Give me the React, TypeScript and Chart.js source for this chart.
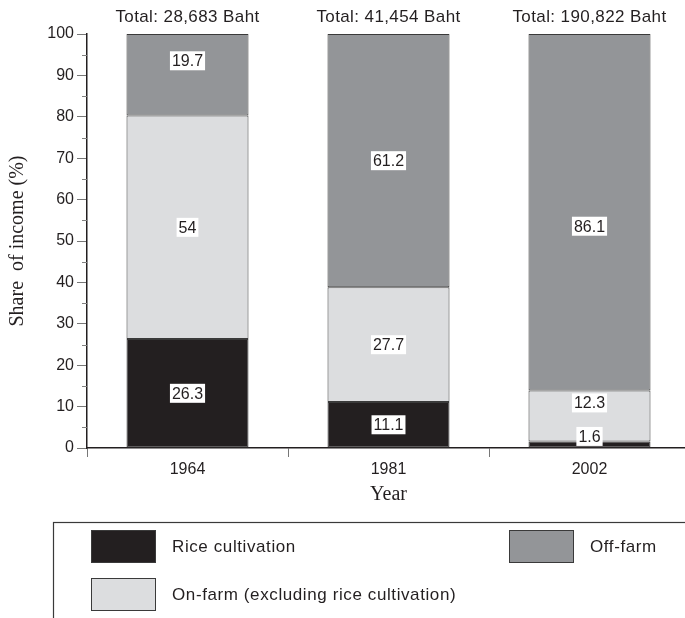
import { useEffect, useRef } from "react";
import { Chart, registerables } from "chart.js";

Chart.register(...registerables);

const YEARS = ["1964", "1981", "2002"];
const RICE = [26.3, 11.1, 1.6];
const ON_FARM = [54, 27.7, 12.3];
const OFF_FARM = [19.7, 61.2, 86.1];
const TOTALS = ["Total: 28,683 Baht", "Total: 41,454 Baht", "Total: 190,822 Baht"];
const SERIES_NAMES = ["Rice cultivation", "On-farm (excluding rice cultivation)", "Off-farm"];
const Y_MIN = 0;
const Y_MAX = 100;
const Y_STEP = 10;

const SANS = "'Liberation Sans', Arial, sans-serif";
const SERIF = "'Liberation Serif', 'Times New Roman', serif";
const INK = "#231f20";
const COLORS = ["#231f20", "#dcdddf", "#939598"];

// label nudges in px (per dataset, per bar) relative to segment centre
const NUDGE = [
  [0, 0, -8],
  [0, 0, -13],
  [-14, 0, 14],
];
// legend slots: [rectX, rectY, textX]
const LEGEND_SLOTS = [
  [91, 530, 172],
  [91, 578, 172],
  [509, 530, 590],
];

const overlay = {
  id: "overlay",
  afterDatasetsDraw(chart: any) {
    const ctx = chart.ctx as any;
    const ys = chart.scales.y;
    ctx.save();
    // minor ticks
    ctx.strokeStyle = "#808080";
    ctx.lineWidth = 1;
    for (let v = Y_MIN + Y_STEP / 2; v < Y_MAX; v += Y_STEP) {
      const py = Math.round(ys.getPixelForValue(v)) + 0.5;
      ctx.beginPath();
      ctx.moveTo(ys.right - 5, py);
      ctx.lineTo(ys.right, py);
      ctx.stroke();
    }
    // value labels
    ctx.font = `16px ${SANS}`;
    ctx.textAlign = "center";
    ctx.textBaseline = "middle";
    chart.data.datasets.forEach((ds: any, di: number) => {
      const meta = chart.getDatasetMeta(di);
      meta.data.forEach((bar: any, i: number) => {
        const p = bar.getProps(["x", "y", "base"], true);
        const cy = (p.y + p.base) / 2 + NUDGE[di][i];
        const text = String(ds.data[i]);
        const w = ctx.measureText(text).width + 4;
        const h = 19;
        ctx.fillStyle = "#ffffff";
        ctx.fillRect(p.x - w / 2, cy - h / 2, w, h);
        ctx.fillStyle = INK;
        ctx.fillText(text, p.x, cy + 1);
      });
    });
    // totals above bars
    const meta0 = chart.getDatasetMeta(0);
    ctx.font = `17px ${SANS}`;
    ctx.letterSpacing = "0.4px";
    ctx.fillStyle = INK;
    meta0.data.forEach((bar: any, i: number) => {
      ctx.fillText(TOTALS[i], bar.x, 17);
    });
    ctx.restore();
  },
  afterDraw(chart: any) {
    const ctx = chart.ctx as any;
    ctx.save();
    ctx.strokeStyle = "#3a3a3a";
    ctx.lineWidth = 1.2;
    ctx.strokeRect(53.5, 522.5, 700, 120);
    ctx.font = `17px ${SANS}`;
    ctx.letterSpacing = "0.6px";
    ctx.textAlign = "left";
    ctx.textBaseline = "middle";
    chart.data.datasets.forEach((ds: any, di: number) => {
      const [rx, ry, tx] = LEGEND_SLOTS[di];
      ctx.fillStyle = ds.backgroundColor;
      ctx.fillRect(rx, ry, 65, 33);
      ctx.strokeStyle = "#3a3a3a";
      ctx.lineWidth = 1;
      ctx.strokeRect(rx + 0.5, ry + 0.5, 64, 32);
      ctx.fillStyle = INK;
      ctx.fillText(ds.label, tx, ry + 17);
    });
    ctx.restore();
  },
};

export default function App() {
  const ref = useRef<HTMLCanvasElement>(null);
  useEffect(() => {
    if (!ref.current) return;
    const series = [RICE, ON_FARM, OFF_FARM];
    const chart = new Chart(ref.current, {
      type: "bar",
      data: {
        labels: YEARS,
        datasets: series.map((d, i) => ({
          label: SERIES_NAMES[i],
          data: d,
          backgroundColor: COLORS[i],
          borderColor: "#3a3a3a",
          borderWidth: 1,
          borderSkipped: false,
          barPercentage: 0.607,
          categoryPercentage: 1,
        })),
      },
      options: {
        animation: false,
        responsive: false,
        layout: { padding: { top: 34, right: 0, bottom: 110, left: 0 } },
        plugins: { legend: { display: false }, tooltip: { enabled: false } },
        scales: {
          x: {
            stacked: true,
            grid: { display: true, drawOnChartArea: false, drawTicks: true, tickLength: 9, color: "#777777", offset: true },
            border: { display: true, color: INK, width: 1.5 },
            ticks: { color: INK, font: { family: SANS, size: 16 }, padding: 3 },
            title: {
              display: true,
              text: "Year",
              color: INK,
              font: { family: SERIF, size: 20 },
              padding: { top: 0, bottom: 1 },
            },
            afterFit: (s: any) => {
              s.height = 60;
            },
          },
          y: {
            stacked: true,
            min: Y_MIN,
            max: Y_MAX,
            ticks: { stepSize: Y_STEP, color: INK, font: { family: SANS, size: 16 }, padding: 3 },
            grid: { display: true, drawOnChartArea: false, drawTicks: true, tickLength: 10, color: "#777777" },
            border: { display: true, color: INK, width: 1.5 },
            title: {
              display: true,
              text: "Share  of income (%)",
              color: INK,
              font: { family: SERIF, size: 20 },
              padding: { top: 6, bottom: 0 },
            },
            afterFit: (s: any) => {
              s.width = 87;
            },
          },
        },
      },
      plugins: [overlay],
    } as any);
    return () => chart.destroy();
  }, []);
  return (
    <div style={{ position: "fixed", left: 0, top: 0, width: 685, height: 618, overflow: "hidden", background: "#fff" }}>
      <canvas ref={ref} width={690} height={618} style={{ display: "block" }} />
    </div>
  );
}
